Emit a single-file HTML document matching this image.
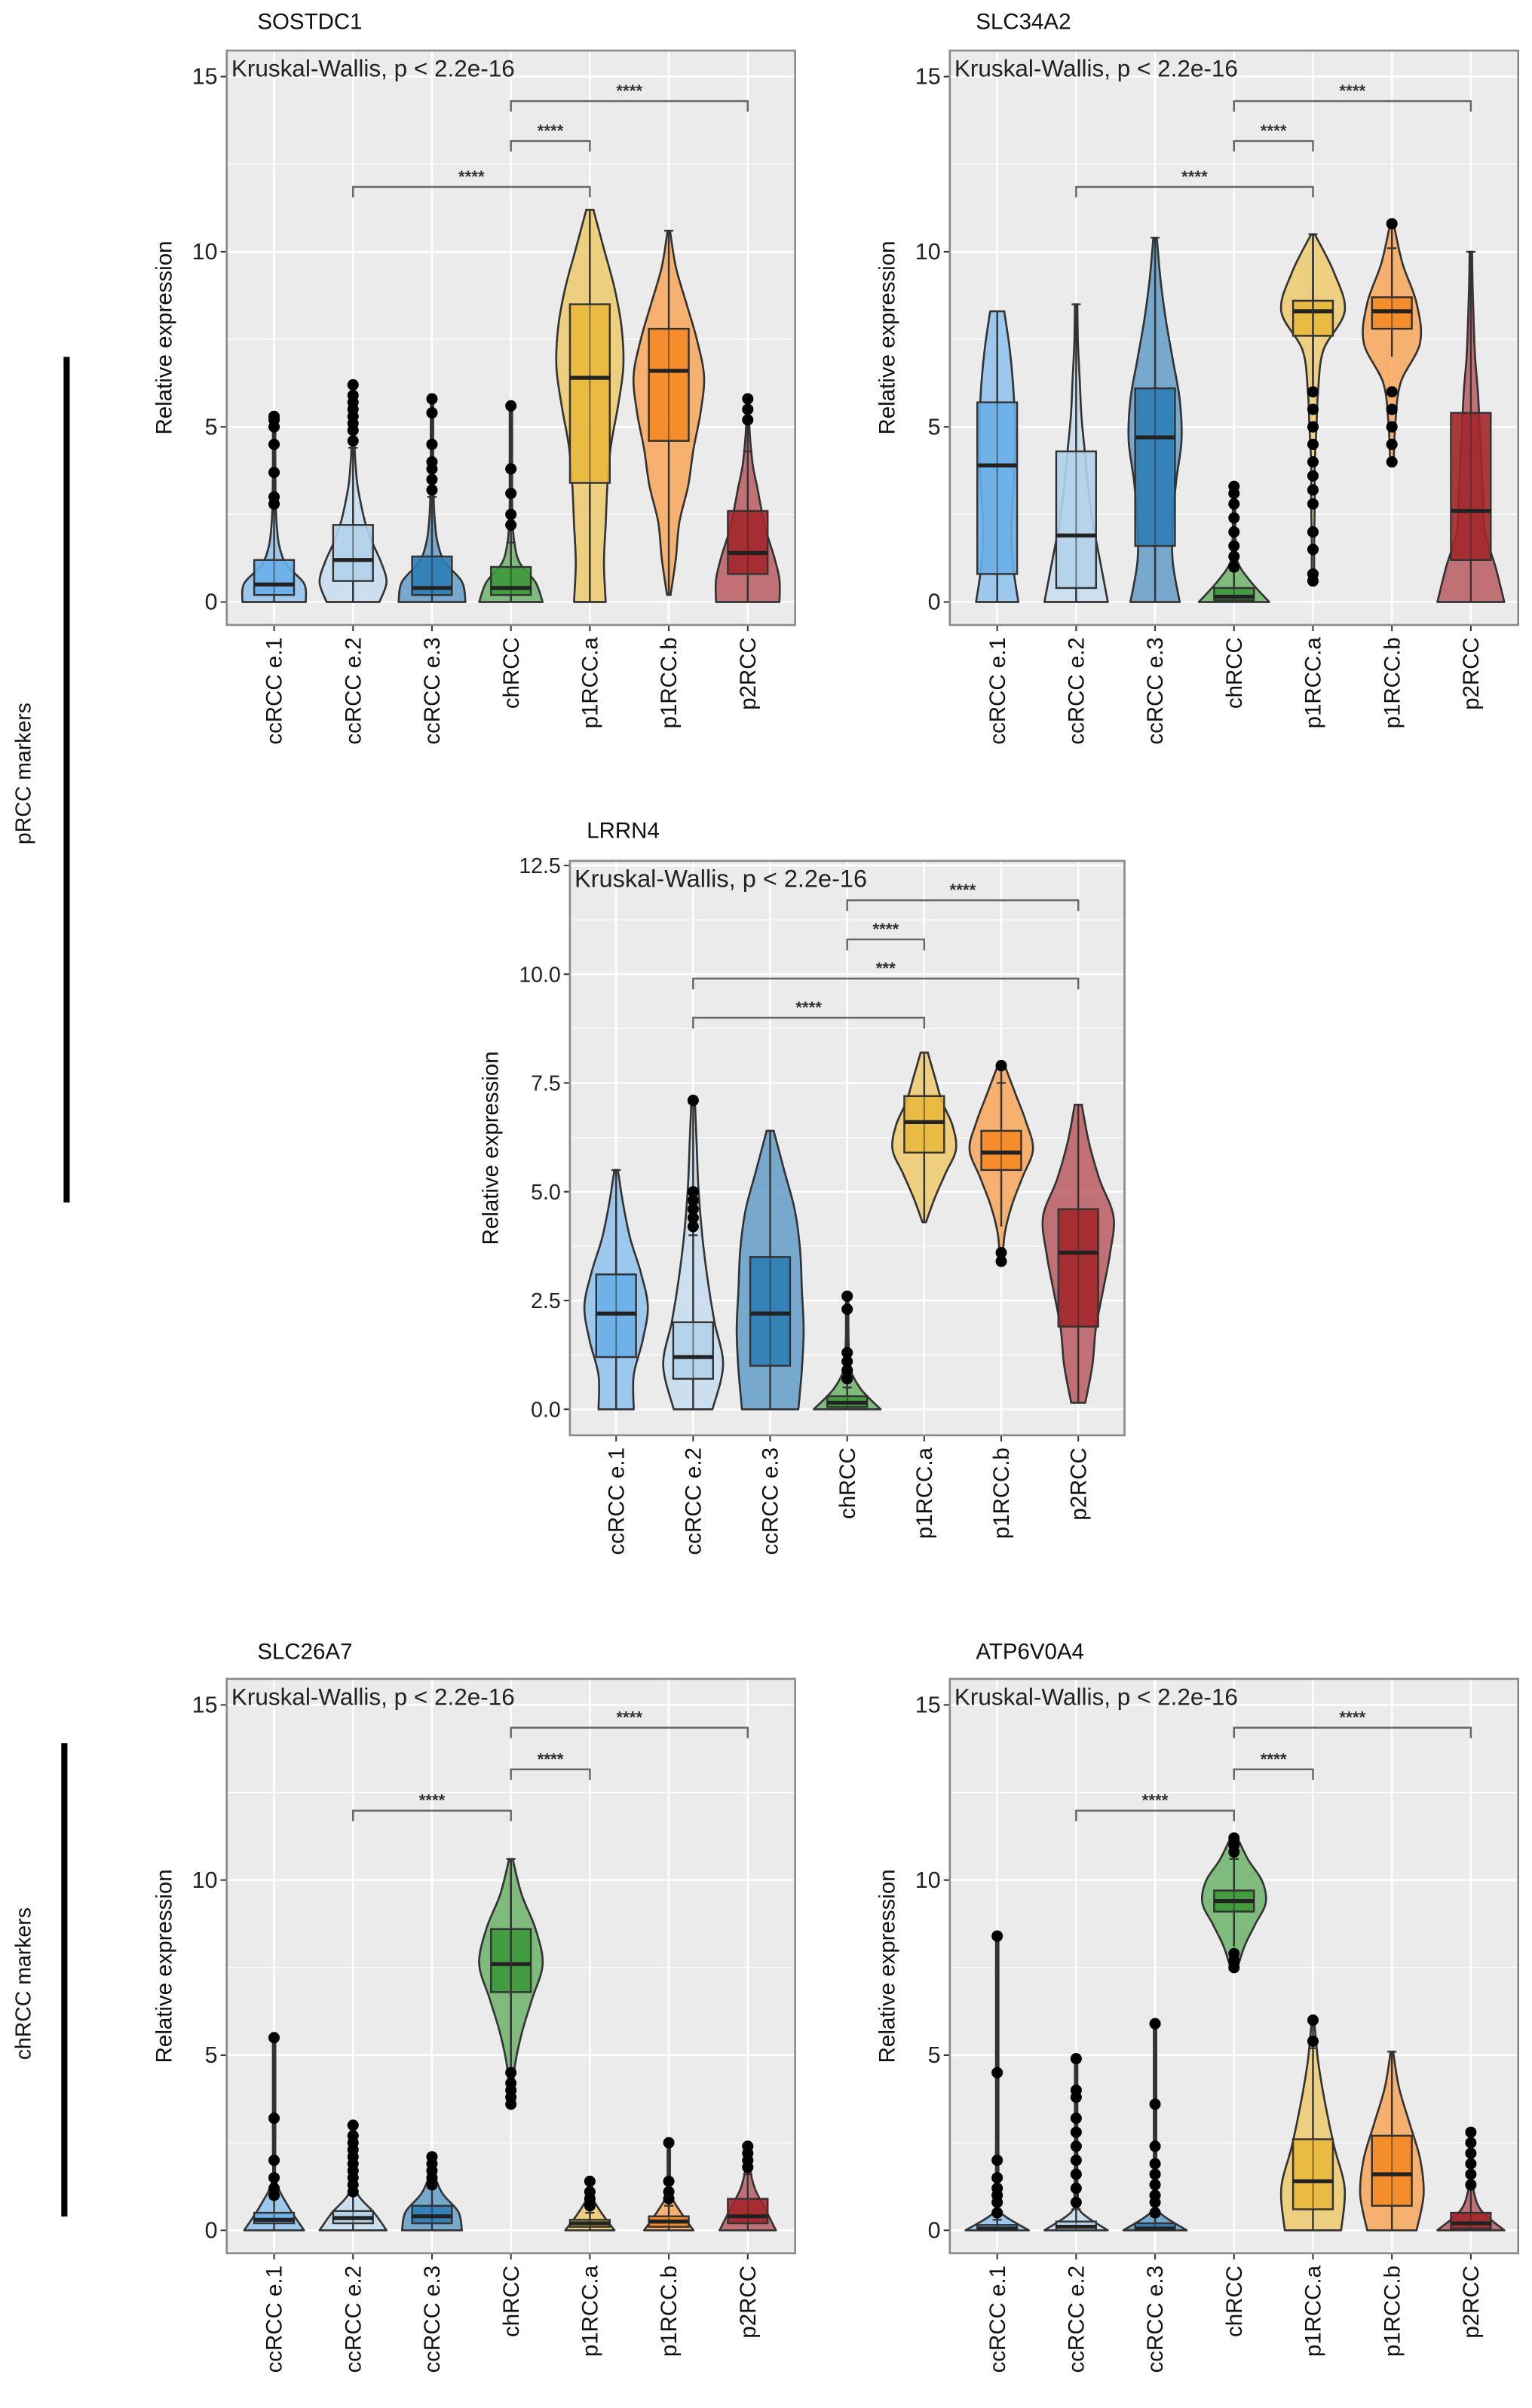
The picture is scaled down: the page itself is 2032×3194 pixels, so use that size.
<!DOCTYPE html>
<html><head><meta charset="utf-8"><title>Marker expression</title>
<style>
html,body{margin:0;padding:0;background:#fff;}
svg{display:block;font-family:"Liberation Sans",sans-serif;}
</style></head>
<body>
<svg id="fig" width="2032" height="3194" viewBox="0 0 1000 1572" preserveAspectRatio="none" xmlns="http://www.w3.org/2000/svg">
<rect x="0" y="0" width="1000" height="1572" fill="#fff"/>
<text x="0" y="0" transform="translate(20,505) rotate(-90)" text-anchor="middle" font-size="14" fill="#111">pRCC markers</text>
<rect x="41.5" y="233" width="4" height="552" fill="#000"/>
<text x="0" y="0" transform="translate(20,1295) rotate(-90)" text-anchor="middle" font-size="14" fill="#111">chRCC markers</text>
<rect x="40" y="1138" width="4" height="309" fill="#000"/>
</svg>
<script>
// ---------- data ----------
const categories = ["ccRCC e.1","ccRCC e.2","ccRCC e.3","chRCC","p1RCC.a","p1RCC.b","p2RCC"];
const colors = ["#6aaee8","#b3d2ea","#2e7db6","#3c9a3a","#e9b83c","#f58a25","#a3262b"];

// SOSTDC1
const sostdc1_range = [[0,5.3],[0,6.2],[0,5.8],[0,5.6],[0,11.2],[0.2,10.6],[0,5.8]];
const sostdc1_density = [[0.9,0.85,0.35,0.15,0.08,0.05,0.04,0.03,0.02,0.02,0.01],[0.75,0.95,0.8,0.55,0.35,0.22,0.12,0.07,0.04,0.03,0.02,0.01],[0.95,0.85,0.35,0.15,0.08,0.05,0.04,0.03,0.02,0.02,0.01],[0.9,0.7,0.25,0.1,0.05,0.03,0.02,0.01,0.01,0.01,0.01],[0.45,0.4,0.45,0.5,0.6,0.8,0.95,0.9,0.7,0.4,0.1],[0.05,0.2,0.3,0.55,0.7,0.9,1.0,0.8,0.5,0.2,0.02],[0.9,0.9,0.75,0.55,0.4,0.28,0.15,0.08,0.04,0.02]];
const sostdc1_box = [[0.2,0.5,1.2,0,2.7],[0.6,1.2,2.2,0,4.4],[0.2,0.4,1.3,0,3.0],[0.2,0.4,1.0,0,1.7],[3.4,6.4,8.5,0,11.2],[4.6,6.6,7.8,0.2,10.6],[0.8,1.4,2.6,0,4.3]];
const sostdc1_outliers = [[2.8,3.0,3.7,4.5,5.0,5.2,5.3],[4.6,4.9,5.1,5.3,5.5,5.7,5.9,6.2],[3.2,3.5,3.8,4.0,4.5,5.4,5.8],[2.2,2.5,3.1,3.8,5.6],[],[],[5.2,5.5,5.8]];
const sostdc1_brackets = [[1,4,11.85,"****"],[3,4,13.16,"****"],[3,6,14.3,"****"]];

// SLC34A2
const slc34a2_range = [[0,8.3],[0,8.5],[0,10.4],[0,3.3],[0.6,10.5],[4.0,10.8],[0,10]];
const slc34a2_density = [[0.6,0.45,0.4,0.45,0.5,0.5,0.45,0.35,0.2],[0.9,0.7,0.5,0.35,0.25,0.15,0.1,0.05,0.02],[0.7,0.5,0.5,0.6,0.75,0.7,0.5,0.3,0.15,0.05],[1,0.5,0.12,0.05,0.03,0.02,0.01],[0.02,0.03,0.05,0.05,0.1,0.15,0.3,0.9,0.6,0.05],[0.05,0.1,0.25,0.8,0.7,0.3,0.05],[0.95,0.7,0.4,0.35,0.3,0.25,0.2,0.12,0.08,0.05,0.01]];
const slc34a2_box = [[0.8,3.9,5.7,0,8.3],[0.4,1.9,4.3,0,8.5],[1.6,4.7,6.1,0,10.4],[0.05,0.15,0.4,0,0.9],[7.6,8.3,8.6,6.2,10.5],[7.8,8.3,8.7,7.0,10.1],[1.2,2.6,5.4,0,10]];
const slc34a2_outliers = [[],[],[],[1.0,1.3,1.6,2.0,2.4,2.8,3.1,3.3],[0.6,0.8,1.5,2.0,2.8,3.2,3.6,4.0,4.5,5.0,5.5,6.0],[4.0,4.5,5.0,5.5,6.0,10.8],[]];
const slc34a2_brackets = [[1,4,11.85,"****"],[3,4,13.16,"****"],[3,6,14.3,"****"]];

// LRRN4
const lrrn4_range = [[0,5.5],[0,7.1],[0,6.4],[0,2.7],[4.3,8.2],[3.4,7.9],[0.15,7.0]];
const lrrn4_density = [[0.5,0.5,0.75,0.9,0.7,0.4,0.2,0.05],[0.55,0.85,0.6,0.4,0.25,0.15,0.1,0.05],[0.8,0.9,0.95,0.9,0.85,0.7,0.4,0.1],[0.95,0.4,0.1,0.05,0.03,0.02,0.01],[0.05,0.3,0.6,0.9,0.8,0.5,0.3,0.1],[0.02,0.1,0.3,0.6,0.9,0.7,0.4,0.1],[0.2,0.4,0.5,0.7,0.9,1.0,0.6,0.3,0.1]];
const lrrn4_box = [[1.2,2.2,3.1,0,5.5],[0.7,1.2,2.0,0,4.0],[1.0,2.2,3.5,0,6.4],[0.05,0.15,0.3,0,0.5],[5.9,6.6,7.2,4.3,8.2],[5.5,5.9,6.4,4.2,7.5],[1.9,3.6,4.6,0.15,7.0]];
const lrrn4_outliers = [[],[4.2,4.4,4.6,4.8,5.0,7.1],[],[0.7,0.9,1.1,1.3,2.3,2.6],[],[3.4,3.6,7.9],[]];
const lrrn4_brackets = [[1,4,9.0,"****"],[1,6,9.9,"***"],[3,4,10.8,"****"],[3,6,11.7,"****"]];

// SLC26A7
const slc26a7_range = [[0,5.5],[0,3.0],[0,2.1],[3.6,10.6],[0,1.4],[0,2.5],[0,2.4]];
const slc26a7_density = [[0.85,0.4,0.06,0.03,0.02,0.01,0.01,0.01,0.01],[0.95,0.6,0.15,0.06,0.03,0.02,0.01],[0.85,0.75,0.3,0.08,0.03],[0.05,0.1,0.3,0.6,0.9,0.7,0.3,0.05],[0.7,0.35,0.08,0.03],[0.7,0.35,0.06,0.03,0.02,0.01],[0.8,0.5,0.2,0.06,0.03]];
const slc26a7_box = [[0.2,0.3,0.5,0,0.9],[0.2,0.35,0.55,0,1.0],[0.2,0.4,0.7,0,1.2],[6.8,7.6,8.6,4.8,10.6],[0.1,0.2,0.3,0,0.5],[0.1,0.25,0.4,0,0.7],[0.2,0.4,0.9,0,1.6]];
const slc26a7_outliers = [[1.0,1.2,1.5,2.0,3.2,5.5],[1.1,1.3,1.5,1.7,1.9,2.1,2.3,2.5,2.7,3.0],[1.3,1.5,1.7,1.9,2.1],[3.6,3.8,4.0,4.2,4.5],[0.7,0.9,1.1,1.4],[0.9,1.1,1.4,2.5],[1.8,2.0,2.2,2.4]];
const slc26a7_brackets = [[1,3,11.98,"****"],[3,4,13.16,"****"],[3,6,14.35,"****"]];

// ATP6V0A4
const atp6v0a4_range = [[0,8.4],[0,4.9],[0,5.9],[7.5,11.2],[0,6.0],[0,5.1],[0,2.8]];
const atp6v0a4_density = [[0.9,0.08,0.03,0.02,0.01,0.01,0.01,0.01,0.01,0.01,0.01,0.01,0.01,0.01,0.01,0.01,0.01],[0.9,0.12,0.05,0.03,0.02,0.02,0.01,0.01,0.01,0.01],[0.9,0.1,0.04,0.03,0.02,0.01,0.01,0.01,0.01,0.01,0.01,0.01],[0.1,0.3,0.6,0.9,0.8,0.4,0.1],[0.8,0.9,0.6,0.35,0.15,0.03],[0.7,0.9,0.8,0.5,0.2,0.03],[0.95,0.3,0.08,0.04,0.02,0.01]];
const atp6v0a4_box = [[0,0.05,0.15,0,0.3],[0,0.1,0.25,0,0.6],[0,0.05,0.2,0,0.4],[9.1,9.4,9.7,8.1,10.6],[0.6,1.4,2.6,0,5.2],[0.7,1.6,2.7,0,5.1],[0.05,0.2,0.5,0,1.2]];
const atp6v0a4_outliers = [[0.5,0.8,1.0,1.2,1.5,2.0,4.5,8.4],[0.8,1.2,1.6,2.0,2.4,2.8,3.2,3.8,4.0,4.9],[0.5,0.8,1.0,1.3,1.6,1.9,2.4,3.6,5.9],[7.5,7.7,7.9,10.8,11.0,11.2],[5.4,6.0],[],[1.3,1.6,1.9,2.2,2.5,2.8]];
const atp6v0a4_brackets = [[1,3,11.98,"****"],[3,4,13.16,"****"],[3,6,14.35,"****"]];

const yticks15 = [0,5,10,15];
const ytickLabels15 = ["0","5","10","15"];
const yticksL = [0,2.5,5,7.5,10,12.5];
const ytickLabelsL = ["0.0","2.5","5.0","7.5","10.0","12.5"];

// ---------- drawing ----------
const NS = "http://www.w3.org/2000/svg";
const svg = document.getElementById("fig");
function el(tag, attrs, parent){
  const e = document.createElementNS(NS, tag);
  for (const k in attrs) e.setAttribute(k, attrs[k]);
  (parent||svg).appendChild(e);
  return e;
}
function smoothPath(pts){
  let d = "M"+pts[0][0].toFixed(2)+","+pts[0][1].toFixed(2);
  for (let i=0;i<pts.length-1;i++){
    const p0=pts[Math.max(0,i-1)], p1=pts[i], p2=pts[i+1], p3=pts[Math.min(pts.length-1,i+2)];
    const c1=[p1[0]+(p2[0]-p0[0])/6, p1[1]+(p2[1]-p0[1])/6];
    const c2=[p2[0]-(p3[0]-p1[0])/6, p2[1]-(p3[1]-p1[1])/6];
    d+=" C"+c1[0].toFixed(2)+","+c1[1].toFixed(2)+" "+c2[0].toFixed(2)+","+c2[1].toFixed(2)+" "+p2[0].toFixed(2)+","+p2[1].toFixed(2);
  }
  return d;
}
function lighten(hex, f){
  const n=parseInt(hex.slice(1),16);
  const r=(n>>16)&255,g=(n>>8)&255,b=n&255;
  const m=c=>Math.round(c+(255-c)*f);
  return "rgb("+m(r)+","+m(g)+","+m(b)+")";
}

function drawPanel(cfg){
  const g = el("g",{});
  
  
  const x0=cfg.x0,x1=cfg.x1,y0=cfg.y0,y1=cfg.y1;
  const yScale = v => cfg.pix0 + (cfg.pixTop-cfg.pix0)*(v/cfg.vTop);
  const step = (x1-x0)/7.2;
  const xScale = i => x0 + (i+0.6)*step;
  const halfMax = 23, boxHalf = 13;

  const t = el("text",{x:cfg.titleX,y:cfg.titleY,"font-size":14.5,fill:"#111"},g);
  t.textContent = cfg.title;
  
  

  const bg = el("rect",{x:x0,y:y0,width:x1-x0,height:y1-y0,fill:"#ebebeb"},g);
  
  

  for (let k=0;k<cfg.ticks.length-1;k++){
    const ym = yScale((cfg.ticks[k]+cfg.ticks[k+1])/2);
    const gl = el("line",{x1:x0,x2:x1,y1:ym,y2:ym,stroke:"#fff","stroke-width":0.6},g);
    
    
  }
  cfg.ticks.forEach((v,k)=>{
    const yy=yScale(v);
    const gl = el("line",{x1:x0,x2:x1,y1:yy,y2:yy,stroke:"#fff","stroke-width":1.3},g);
    
    
    el("line",{x1:x0-4,x2:x0,y1:yy,y2:yy,stroke:"#333","stroke-width":1},g);
    const tl = el("text",{x:x0-6,y:yy+5,"text-anchor":"end","font-size":cfg.tickFont,fill:"#222",
      "font-family":cfg.narrow?'"Liberation Sans Narrow","Liberation Sans",sans-serif':'"Liberation Sans",sans-serif'},g);
    tl.textContent = cfg.tickLabels[k];
    
    
  });
  categories.forEach((c,i)=>{
    const xx=xScale(i);
    const gl = el("line",{x1:xx,x2:xx,y1:y0,y2:y1,stroke:"#fff","stroke-width":1.3},g);
    
    
  });

  categories.forEach((c,i)=>{
    const xx=xScale(i), col=colors[i];
    const [mn,mx]=cfg.range[i], dens=cfg.density[i];
    const n=dens.length;
    const right=[], left=[];
    for (let k=0;k<n;k++){
      const v = mn + (mx-mn)*k/(n-1);
      const w = Math.max(0.8, dens[k]*halfMax);
      right.push([xx+w, yScale(v)]);
    }
    for (let k=right.length-1;k>=0;k--) left.push([2*xx-right[k][0], right[k][1]]);
    const d = smoothPath(right)+" "+smoothPath(left).replace(/^M/,"L")+" Z";
    const vp = el("path",{d:d,fill:lighten(col,0.25),"fill-opacity":0.85,stroke:"#333","stroke-width":1.3,"stroke-linejoin":"round"},g);
    
    

    const [q1,med,q3,wl,wh]=cfg.box[i];
    const wk = el("line",{x1:xx,x2:xx,y1:yScale(wl),y2:yScale(wh),stroke:"#333","stroke-width":1.2},g);
    
    
    el("line",{x1:xx-3,x2:xx+3,y1:yScale(wh),y2:yScale(wh),stroke:"#333","stroke-width":1.1},g);
    const bx = el("rect",{x:xx-boxHalf,y:yScale(q3),width:2*boxHalf,height:Math.max(1.5,yScale(q1)-yScale(q3)),fill:col,"fill-opacity":0.9,stroke:"#333","stroke-width":1.2},g);
    
    
    el("line",{x1:xx,x2:xx,y1:yScale(q3),y2:yScale(q1),stroke:"#333","stroke-width":0.8,"stroke-opacity":0.6},g);
    const md = el("line",{x1:xx-boxHalf,x2:xx+boxHalf,y1:yScale(med),y2:yScale(med),stroke:"#222","stroke-width":2.6},g);
    
    
    if (cfg.outliers[i].length){
      const ol = el("line",{x1:xx,x2:xx,y1:yScale(wh),y2:yScale(Math.max(...cfg.outliers[i])),stroke:"#333","stroke-width":1.2},g);
      
      
    }
    cfg.outliers[i].forEach(v=>{
      const p = el("circle",{cx:xx,cy:yScale(v),r:3.7,fill:"#000"},g);
      
      
    });

    el("line",{x1:xx,x2:xx,y1:y1,y2:y1+4,stroke:"#333","stroke-width":1},g);
    const lb = el("text",{x:0,y:0,transform:"translate("+(xx+5)+","+(y1+8)+") rotate(-90)","text-anchor":"end","font-size":14.5,fill:"#111"},g);
    lb.textContent = c;
    
    
  });

  cfg.brackets.forEach(b=>{
    const xa=xScale(b[0]), xb=xScale(b[1]), yb=yScale(b[2]), ytip=yScale(b[2]-0.3*cfg.vTop/15);
    const bp = el("path",{d:"M"+xa+","+ytip+" L"+xa+","+yb+" L"+xb+","+yb+" L"+xb+","+ytip,fill:"none",stroke:"#666","stroke-width":1.2},g);
    
    
    const st = el("text",{x:(xa+xb)/2,y:yb-3,"text-anchor":"middle","font-size":11,"font-weight":"bold",fill:"#333"},g);
    st.textContent = b[3];
    
    
  });

  const kw = el("text",{x:x0+3,y:y0+17,"font-size":cfg.kwFont,fill:"#222",
    "font-family":cfg.narrow?'"Liberation Sans Narrow","Liberation Sans",sans-serif':'"Liberation Sans",sans-serif'},g);
  kw.textContent = "Kruskal-Wallis, p < 2.2e-16";
  
  

  const bd = el("rect",{x:x0,y:y0,width:x1-x0,height:y1-y0,fill:"none",stroke:"#8a8a8a","stroke-width":1.3},g);
  
  

  const yt = el("text",{x:0,y:0,transform:"translate("+cfg.ytitleX+","+((y0+y1)/2)+") rotate(-90)","text-anchor":"middle","font-size":14.5,fill:"#111"},g);
  yt.textContent = "Relative expression";
  
  
}

drawPanel({id:"sostdc1",title:"SOSTDC1",titleX:168,titleY:19,x0:148,x1:519,y0:33,y1:408,pix0:393,pixTop:50,vTop:15,
  ticks:yticks15,tickLabels:ytickLabels15,tickFont:15,kwFont:15.5,ytitleX:112,
  range:sostdc1_range,density:sostdc1_density,box:sostdc1_box,outliers:sostdc1_outliers,brackets:sostdc1_brackets});
drawPanel({id:"slc34a2",title:"SLC34A2",titleX:637,titleY:19,x0:620,x1:991,y0:33,y1:408,pix0:393,pixTop:50,vTop:15,
  ticks:yticks15,tickLabels:ytickLabels15,tickFont:15,kwFont:15.5,ytitleX:584,
  range:slc34a2_range,density:slc34a2_density,box:slc34a2_box,outliers:slc34a2_outliers,brackets:slc34a2_brackets});
drawPanel({id:"lrrn4",title:"LRRN4",titleX:383,titleY:547,x0:372,x1:734,y0:562,y1:937,pix0:920,pixTop:565,vTop:12.5,narrow:true,
  ticks:yticksL,tickLabels:ytickLabelsL,tickFont:14,kwFont:16,ytitleX:325,
  range:lrrn4_range,density:lrrn4_density,box:lrrn4_box,outliers:lrrn4_outliers,brackets:lrrn4_brackets});
drawPanel({id:"slc26a7",title:"SLC26A7",titleX:168,titleY:1083,x0:148,x1:519,y0:1096,y1:1471,pix0:1456,pixTop:1113,vTop:15,
  ticks:yticks15,tickLabels:ytickLabels15,tickFont:15,kwFont:15.5,ytitleX:112,
  range:slc26a7_range,density:slc26a7_density,box:slc26a7_box,outliers:slc26a7_outliers,brackets:slc26a7_brackets});
drawPanel({id:"atp6v0a4",title:"ATP6V0A4",titleX:637,titleY:1083,x0:620,x1:991,y0:1096,y1:1471,pix0:1456,pixTop:1113,vTop:15,
  ticks:yticks15,tickLabels:ytickLabels15,tickFont:15,kwFont:15.5,ytitleX:584,
  range:atp6v0a4_range,density:atp6v0a4_density,box:atp6v0a4_box,outliers:atp6v0a4_outliers,brackets:atp6v0a4_brackets});
</script>
</body></html>
